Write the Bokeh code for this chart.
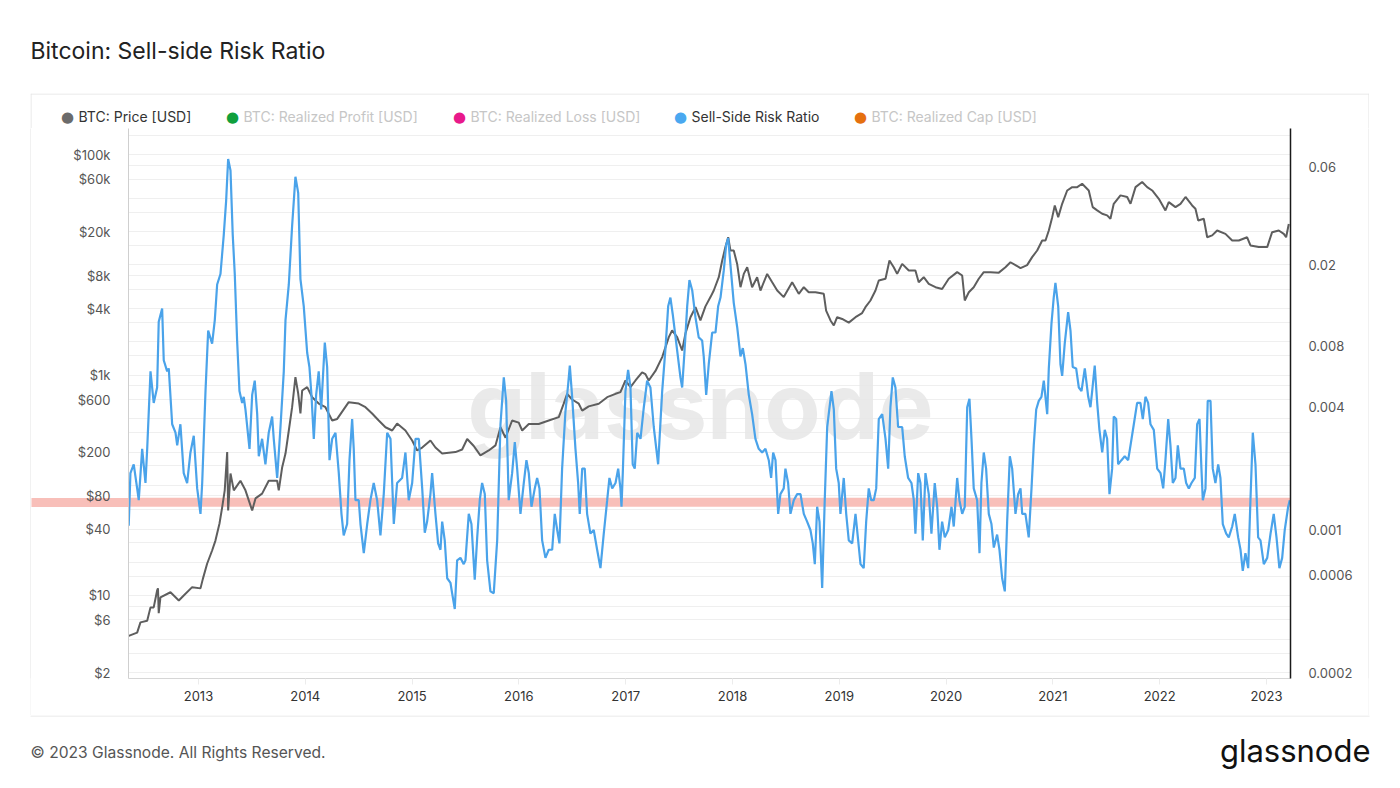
import math
from bokeh.plotting import figure
from bokeh.layouts import column, row
from bokeh.models import (Range1d, LogAxis, LinearAxis, FixedTicker, Label, Span, BoxAnnotation,
                          Grid, LogScale, ColumnDataSource, Spacer)
from bokeh.embed import file_html
from bokeh.resources import INLINE

# ---------------- data ----------------
SSR_T = [2012.347, 2012.363, 2012.394, 2012.426, 2012.441, 2012.473, 2012.504, 2012.520, 2012.551, 2012.581,
         2012.613, 2012.628, 2012.660, 2012.675, 2012.707, 2012.722, 2012.754, 2012.785, 2012.801, 2012.831,
         2012.862, 2012.894, 2012.925, 2012.956, 2012.988, 2013.019, 2013.035, 2013.066, 2013.091, 2013.128,
         2013.153, 2013.175, 2013.206, 2013.237, 2013.259, 2013.278, 2013.300, 2013.321, 2013.340, 2013.362,
         2013.384, 2013.409, 2013.424, 2013.440, 2013.478, 2013.503, 2013.527, 2013.550, 2013.565, 2013.596,
         2013.627, 2013.658, 2013.690, 2013.705, 2013.737, 2013.768, 2013.799, 2013.815, 2013.846, 2013.877,
         2013.908, 2013.934, 2013.955, 2013.986, 2014.018, 2014.039, 2014.058, 2014.080, 2014.102, 2014.126,
         2014.149, 2014.183, 2014.205, 2014.227, 2014.252, 2014.283, 2014.314, 2014.339, 2014.360, 2014.392,
         2014.414, 2014.439, 2014.454, 2014.470, 2014.501, 2014.517, 2014.548, 2014.580, 2014.610, 2014.641,
         2014.673, 2014.704, 2014.735, 2014.767, 2014.798, 2014.829, 2014.860, 2014.907, 2014.938, 2014.969,
         2015.001, 2015.032, 2015.063, 2015.095, 2015.119,
         2015.141, 2015.172, 2015.188, 2015.219, 2015.244, 2015.266, 2015.282, 2015.306, 2015.329, 2015.360,
         2015.375, 2015.400, 2015.422, 2015.453, 2015.484, 2015.500, 2015.531, 2015.556, 2015.587, 2015.610,
         2015.634, 2015.656, 2015.681, 2015.703, 2015.734, 2015.765, 2015.797, 2015.828, 2015.859, 2015.881,
         2015.905, 2015.937, 2015.962, 2015.984, 2016.015, 2016.046, 2016.071, 2016.093, 2016.118, 2016.149,
         2016.171, 2016.193, 2016.218, 2016.249, 2016.280, 2016.312, 2016.336, 2016.359, 2016.380, 2016.405,
         2016.436, 2016.462, 2016.477, 2016.499, 2016.530, 2016.555, 2016.570, 2016.593, 2016.617, 2016.639,
         2016.670, 2016.701, 2016.733, 2016.764, 2016.795, 2016.827, 2016.848, 2016.874, 2016.905, 2016.930,
         2016.951, 2016.961, 2016.973, 2016.998, 2017.023, 2017.045, 2017.066, 2017.085, 2017.108, 2017.139,
         2017.170, 2017.201, 2017.232, 2017.263, 2017.304, 2017.342, 2017.373, 2017.398, 2017.419, 2017.441,
         2017.482, 2017.513, 2017.529, 2017.553, 2017.576, 2017.597, 2017.623, 2017.654, 2017.684, 2017.716,
         2017.731, 2017.754,
         2017.778, 2017.810, 2017.841, 2017.866, 2017.888, 2017.919, 2017.941, 2017.960, 2017.981, 2018.012,
         2018.044, 2018.075, 2018.097, 2018.122, 2018.153, 2018.184, 2018.215, 2018.246, 2018.278, 2018.309,
         2018.340, 2018.362, 2018.381, 2018.403, 2018.428, 2018.449, 2018.480, 2018.496, 2018.521, 2018.543,
         2018.574, 2018.606, 2018.637, 2018.668, 2018.699, 2018.730, 2018.752, 2018.771, 2018.793, 2018.815,
         2018.840, 2018.864, 2018.887, 2018.927, 2018.949, 2018.971, 2018.995, 2019.011, 2019.042, 2019.065,
         2019.089, 2019.121, 2019.152, 2019.177, 2019.199, 2019.229, 2019.252, 2019.276, 2019.299, 2019.323,
         2019.346, 2019.370, 2019.402, 2019.433, 2019.458, 2019.479, 2019.501, 2019.526, 2019.551, 2019.589,
         2019.613, 2019.645, 2019.676, 2019.698, 2019.713, 2019.739, 2019.760, 2019.782, 2019.807, 2019.838,
         2019.863, 2019.894, 2019.917, 2019.938, 2019.963, 2019.988, 2020.020, 2020.051, 2020.072, 2020.104,
         2020.125, 2020.151, 2020.175, 2020.198, 2020.219, 2020.238, 2020.259, 2020.291, 2020.313, 2020.331,
         2020.353, 2020.375, 2020.400, 2020.425, 2020.447, 2020.478, 2020.500, 2020.525, 2020.550,
         2020.572, 2020.597, 2020.619, 2020.650, 2020.675, 2020.697, 2020.713, 2020.743, 2020.774, 2020.800,
         2020.821, 2020.844, 2020.868, 2020.893, 2020.915, 2020.947, 2020.962, 2020.987, 2021.008, 2021.024,
         2021.050, 2021.071, 2021.087, 2021.111, 2021.143, 2021.165, 2021.186, 2021.218, 2021.243, 2021.268,
         2021.299, 2021.331, 2021.352, 2021.368, 2021.392, 2021.415, 2021.436, 2021.462, 2021.486, 2021.508,
         2021.530, 2021.555, 2021.570, 2021.593, 2021.611, 2021.642, 2021.673, 2021.705, 2021.727, 2021.758,
         2021.789, 2021.820, 2021.842, 2021.867, 2021.892, 2021.914, 2021.945, 2021.977, 2022.008, 2022.033,
         2022.054, 2022.080, 2022.101, 2022.123, 2022.148, 2022.170, 2022.195, 2022.226, 2022.248, 2022.273,
         2022.298, 2022.329, 2022.351, 2022.373, 2022.391, 2022.404, 2022.429, 2022.450, 2022.476, 2022.497,
         2022.522, 2022.548, 2022.569, 2022.591, 2022.623, 2022.647, 2022.679, 2022.703, 2022.735, 2022.757,
         2022.778, 2022.803, 2022.829, 2022.850, 2022.872, 2022.897, 2022.922, 2022.944, 2022.975, 2023.007,
         2023.038, 2023.068, 2023.094, 2023.121, 2023.147, 2023.171, 2023.203, 2023.218]

SSR_V = [0.00105, 0.0019, 0.0021, 0.0016, 0.0014, 0.0025, 0.0017, 0.0025, 0.006, 0.0042,
         0.005, 0.0105, 0.0122, 0.0068, 0.006, 0.0062, 0.0033, 0.003, 0.0026, 0.0033,
         0.0019, 0.0017, 0.0024, 0.0029, 0.0016, 0.0012, 0.0017, 0.0048, 0.0095, 0.0082,
         0.0107, 0.016, 0.018, 0.028, 0.041, 0.066, 0.058, 0.028, 0.018, 0.0085,
         0.0048, 0.0042, 0.0045, 0.0039, 0.0025, 0.0046, 0.0054, 0.0037, 0.0023, 0.0028,
         0.0021, 0.003, 0.0036, 0.0028, 0.0018, 0.0032, 0.006, 0.0107, 0.016, 0.031,
         0.054, 0.045, 0.017, 0.0125, 0.0074, 0.0063, 0.0046, 0.0028, 0.0046, 0.006,
         0.0039, 0.0083, 0.0063, 0.0022, 0.0028, 0.003, 0.0019, 0.0012, 0.00094, 0.00107,
         0.0022, 0.0035, 0.0025, 0.0014, 0.0014, 0.00107, 0.00077, 0.00107, 0.0014, 0.0017,
         0.0014, 0.00094, 0.0015, 0.003, 0.0028, 0.00107, 0.0017, 0.0018, 0.0024, 0.0014,
         0.0017, 0.0028, 0.0028, 0.0016, 0.00097,
         0.0011, 0.0015, 0.0019, 0.0012, 0.00086, 0.0008, 0.0011, 0.00089, 0.00058, 0.00055,
         0.00049, 0.00041, 0.00071, 0.00073, 0.00068, 0.00071, 0.0012, 0.00107, 0.00057, 0.00092,
         0.0014, 0.0017, 0.0015, 0.00071, 0.0005, 0.00049, 0.00089, 0.0033, 0.0056, 0.0043,
         0.0014, 0.0019, 0.0027, 0.002, 0.0012, 0.0017, 0.0022, 0.0019, 0.0013, 0.0016,
         0.0018, 0.0016, 0.00089, 0.00073, 0.0008, 0.0008, 0.0012, 0.001, 0.00086, 0.002,
         0.0038, 0.0052, 0.0064, 0.0045, 0.0025, 0.0017, 0.0012, 0.002, 0.002, 0.0012,
         0.00096, 0.001, 0.0008, 0.00065, 0.00096, 0.0014, 0.0018, 0.0016, 0.0017, 0.002,
         0.0016, 0.0013, 0.0019, 0.0048, 0.0061, 0.005, 0.0021, 0.002, 0.003, 0.0028,
         0.004, 0.0054, 0.005, 0.0032, 0.0021, 0.0048, 0.0078, 0.0125, 0.0138, 0.0114,
         0.0076, 0.0056, 0.005, 0.0078, 0.0125, 0.0168, 0.015, 0.011, 0.0088, 0.0085,
         0.0071, 0.0046,
         0.0065, 0.0093, 0.0093, 0.0125, 0.0138, 0.0188, 0.025, 0.027, 0.02, 0.013,
         0.0099, 0.0071, 0.0078, 0.0065, 0.0046, 0.0037, 0.0028, 0.0025, 0.0024, 0.0025,
         0.0022, 0.0018, 0.0024, 0.0022, 0.0012, 0.0015, 0.0016, 0.002, 0.0017, 0.0012,
         0.0014, 0.0015, 0.0015, 0.0012, 0.0011, 0.001, 0.00086, 0.00068, 0.0013, 0.0011,
         0.00052, 0.0014, 0.0032, 0.0048, 0.0039, 0.002, 0.0017, 0.0012, 0.0018, 0.0012,
         0.00089, 0.00086, 0.0012, 0.00089, 0.00068, 0.00065, 0.0011, 0.0016, 0.0014, 0.0014,
         0.0016, 0.0035, 0.0037, 0.0028, 0.002, 0.004, 0.0056, 0.005, 0.0032, 0.0032,
         0.0023, 0.0018, 0.0017, 0.0014, 0.00096, 0.0019, 0.0017, 0.00089, 0.0019, 0.0015,
         0.00096, 0.0017, 0.0013, 0.0008, 0.0011, 0.00092, 0.001, 0.0013, 0.00104, 0.0018,
         0.0014, 0.0012, 0.0013, 0.004, 0.0044, 0.0028, 0.0016, 0.0014, 0.00077, 0.0017,
         0.0024, 0.002, 0.0012, 0.00107, 0.00082, 0.00095, 0.0008, 0.00058, 0.0005,
         0.0011, 0.0023, 0.002, 0.0012, 0.0015, 0.0016, 0.0012, 0.0012, 0.00092, 0.0016,
         0.0026, 0.0039, 0.0043, 0.0045, 0.0054, 0.0037, 0.0062, 0.0103, 0.0138, 0.0163,
         0.0125, 0.0065, 0.0057, 0.0082, 0.0117, 0.0095, 0.0063, 0.0062, 0.005, 0.0048,
         0.0062, 0.0045, 0.004, 0.0048, 0.0064, 0.0042, 0.0031, 0.0024, 0.0031, 0.0028,
         0.0015, 0.002, 0.0036, 0.0035, 0.0021, 0.0022, 0.0023, 0.0022, 0.0026, 0.0033,
         0.0042, 0.0042, 0.0035, 0.0045, 0.0042, 0.0033, 0.0031, 0.002, 0.0019, 0.0016,
         0.0022, 0.0035, 0.0026, 0.0017, 0.0018, 0.0026, 0.002, 0.002, 0.0017, 0.0016,
         0.0017, 0.0018, 0.0033, 0.0035, 0.002, 0.0014, 0.0016, 0.0043, 0.0043, 0.002,
         0.0017, 0.0021, 0.0018, 0.00107, 0.00096, 0.00092, 0.00104, 0.0012, 0.00092, 0.0008,
         0.00063, 0.00077, 0.00065, 0.0014, 0.003, 0.0021, 0.00092, 0.00089, 0.00068, 0.00073,
         0.00096, 0.0012, 0.00092, 0.00065, 0.00073, 0.001, 0.0013, 0.0014]

PRICE_T = [2012.347, 2012.426, 2012.457, 2012.520, 2012.551, 2012.581, 2012.613, 2012.621, 2012.628, 2012.644,
           2012.738, 2012.816, 2012.862, 2012.941, 2013.019, 2013.040, 2013.081, 2013.128, 2013.159, 2013.197,
           2013.222, 2013.246, 2013.269, 2013.278, 2013.300, 2013.331, 2013.393, 2013.440, 2013.503, 2013.534,
           2013.596, 2013.658, 2013.737, 2013.752, 2013.784, 2013.815, 2013.846, 2013.877, 2013.908, 2013.934,
           2013.955, 2013.971, 2014.018, 2014.065, 2014.126, 2014.189, 2014.252, 2014.299, 2014.407, 2014.501,
           2014.564, 2014.626, 2014.688, 2014.751, 2014.814, 2014.860, 2014.938, 2015.001, 2015.048, 2015.095,
           2015.172, 2015.219, 2015.282, 2015.406, 2015.469, 2015.516, 2015.578, 2015.640, 2015.718, 2015.781,
           2015.828, 2015.875, 2015.937, 2015.999, 2016.031, 2016.093, 2016.186, 2016.280, 2016.374, 2016.420,
           2016.452, 2016.499, 2016.561, 2016.593, 2016.654, 2016.748, 2016.827, 2016.905, 2016.951, 2016.998,
           2017.045, 2017.092, 2017.154, 2017.185, 2017.216, 2017.279, 2017.342, 2017.404, 2017.435, 2017.482,
           2017.529, 2017.560, 2017.607, 2017.654, 2017.700, 2017.747, 2017.794, 2017.825, 2017.872, 2017.904,
           2017.934, 2017.960, 2017.981, 2018.012, 2018.044, 2018.075, 2018.106, 2018.138, 2018.184, 2018.231,
           2018.262, 2018.325, 2018.372, 2018.419, 2018.480, 2018.559, 2018.621, 2018.668, 2018.714, 2018.777,
           2018.855, 2018.877, 2018.918, 2018.949, 2018.980, 2019.027, 2019.089, 2019.152, 2019.214, 2019.245,
           2019.292, 2019.339, 2019.370, 2019.433, 2019.470, 2019.510, 2019.542, 2019.589, 2019.651, 2019.713,
           2019.744, 2019.791, 2019.838, 2019.901, 2019.963, 2020.025, 2020.104, 2020.151, 2020.175, 2020.213,
           2020.259, 2020.306, 2020.353, 2020.416, 2020.494, 2020.556, 2020.603, 2020.650, 2020.697, 2020.759,
           2020.806, 2020.853, 2020.900, 2020.931, 2020.962, 2020.994, 2021.018, 2021.050, 2021.087, 2021.134,
           2021.181, 2021.228, 2021.274, 2021.336, 2021.373, 2021.415, 2021.462, 2021.508, 2021.539, 2021.570,
           2021.633, 2021.696, 2021.727, 2021.774, 2021.836, 2021.883, 2021.930, 2021.992, 2022.054, 2022.085,
           2022.148, 2022.195, 2022.242, 2022.304, 2022.335, 2022.361, 2022.413, 2022.445, 2022.492, 2022.538,
           2022.616, 2022.679, 2022.741, 2022.819, 2022.850, 2022.928, 2023.007, 2023.053, 2023.115, 2023.162,
           2023.184, 2023.209]

PRICE_V = [4.3, 4.6, 5.7, 5.9, 7.8, 7.8, 11.1, 11.6, 6.9, 9.6,
           10.7, 9.0, 10.0, 11.9, 11.6, 14, 19.4, 25.6, 31.5, 45,
           63, 90, 200, 59, 128, 90, 110, 90, 59, 76,
           84, 110, 110, 90, 146, 194, 314, 511, 957, 680,
           448, 725, 777, 630, 552, 511, 387, 400, 568, 552,
           511, 448, 387, 336, 314, 363, 314, 255, 207, 220,
           255, 220, 194, 200, 211, 263, 227, 187, 207, 230,
           336, 270, 387, 370, 314, 360, 360, 387, 415, 550,
           676, 600, 550, 476, 520, 550, 630, 676, 700, 893,
           777, 893, 1060, 1020, 893, 1090, 1455, 2210, 2540, 2210,
           1670, 2390, 3350, 4130, 3130, 4200, 5100, 5850, 7730, 10960,
           14500, 17800, 13500, 13500, 10200, 6270, 8280, 9520, 6270, 7730,
           5850, 8280, 6950, 5850, 5100, 6950, 5460, 6270, 5650, 5650,
           5460, 3850, 3130, 2820, 3350, 3230, 2990, 3350, 3650, 4130,
           4750, 5850, 7210, 7480, 10960, 9520, 8280, 10200, 8880, 8880,
           6950, 7730, 6730, 6270, 6030, 7480, 8590, 8000, 4750, 5650,
           6270, 7480, 8590, 8590, 8500, 9520, 10560, 9950, 9350, 9950,
           11760, 13500, 16630, 16630, 20500, 27100, 34600, 27100, 35800, 47300,
           50700, 50700, 54400, 47300, 33400, 31200, 29100, 28100, 26200, 35800,
           42700, 41300, 35800, 50700, 56400, 50700, 47300, 39700, 31200, 37100,
           33400, 35800, 41300, 34600, 32300, 25300, 26200, 17800, 18500, 20500,
           19100, 16630, 16630, 17800, 15000, 14500, 14500, 19800, 20500, 19100,
           17800, 23500]

PRICE_TICKS = [2, 6, 10, 40, 80, 200, 600, 1000, 4000, 8000, 20000, 60000, 100000]
PRICE_LABELS = ["$2", "$6", "$10", "$40", "$80", "$200", "$600", "$1k", "$4k", "$8k", "$20k", "$60k", "$100k"]
SSR_TICKS = [0.0002, 0.0006, 0.001, 0.004, 0.008, 0.02, 0.06]
SSR_LABELS = ["0.0002", "0.0006", "0.001", "0.004", "0.008", "0.02", "0.06"]
YEARS = [2013, 2014, 2015, 2016, 2017, 2018, 2019, 2020, 2021, 2022, 2023]
GRID_TICKS = [m * 10 ** e for e in range(0, 6) for m in (1, 1.5, 2, 3, 4, 6, 8)]
THRESHOLD = 0.00137

LEGEND_NAMES = ["BTC: Price [USD]", "BTC: Realized Profit [USD]", "BTC: Realized Loss [USD]",
                "Sell-Side Risk Ratio", "BTC: Realized Cap [USD]"]
LEGEND_DOTS = ["#6b6b6b", "#10a03c", "#e8198b", "#4aa8f0", "#e5700f"]
LEGEND_ACTIVE = [True, False, False, True, False]

FONT = "Inter"
BORDER = "#e4e4e4"
BAND = "#f6a9a2"

X_RANGE = (2012.345, 2023.225)
PRICE_RANGE = (1.765, 172700)
SSR_RANGE = (0.000187, 0.0931)


def blank(w, h, x0, x1, y0, y1, bg="white"):
    f = figure(width=w, height=h, output_backend="svg", toolbar_location=None,
               x_range=Range1d(x0, x1), y_range=Range1d(y0, y1),
               x_axis_location=None, y_axis_location=None, min_border=0)
    f.xgrid.visible = False
    f.ygrid.visible = False
    f.outline_line_color = None
    f.background_fill_color = bg
    f.border_fill_color = bg
    return f


def rule(f, l, r, t, b):
    f.add_layout(BoxAnnotation(left=l, right=r, top=t, bottom=b, fill_color=BORDER,
                               fill_alpha=1, line_color=None))


# ---------------- header (title) ----------------
header = blank(1400, 93, 0, 1400, 93, 0)
header.add_layout(Label(x=30, y=50, text="Bitcoin: Sell-side Risk Ratio", text_baseline="middle",
                        text_font=FONT, text_font_size="23px", text_color="#222222"))

# ---------------- top of panel: border + legend ----------------
top_fig = blank(1339, 35, 30, 1369, 128, 93)
rule(top_fig, 30, 1369, 93, 94)
rule(top_fig, 30, 31, 93, 128)
rule(top_fig, 1368, 1369, 93, 128)
leg_x = [67, 232, 459, 680, 860]
for xd, name, col, act in zip(leg_x, LEGEND_NAMES, LEGEND_DOTS, LEGEND_ACTIVE):
    top_fig.add_layout(Label(x=xd, y=116, text="\u25cf", text_align="center", text_baseline="middle",
                             text_font="DejaVu Sans", text_font_size="15px", text_color=col))
    top_fig.add_layout(Label(x=xd + 11, y=116, text=name, text_baseline="middle",
                             text_font=FONT, text_font_size="14px",
                             text_color="#333333" if act else "#c6c6c6"))

# ---------------- main chart ----------------
MW, MH = 1337, 587
FL, FR, FB = 97, 78, 37
p = figure(width=MW, height=MH, output_backend="svg", toolbar_location=None,
           x_range=Range1d(*X_RANGE), y_range=Range1d(*PRICE_RANGE),
           x_axis_location=None, y_axis_location=None,
           min_border_left=FL, min_border_right=FR, min_border_top=0, min_border_bottom=FB)
p.y_scale = LogScale()
p.extra_y_ranges = {"ssr": Range1d(*SSR_RANGE)}
p.extra_y_scales = {"ssr": LogScale()}
p.outline_line_color = None
p.background_fill_color = "white"
p.border_fill_color = "white"
p.xgrid.visible = False
p.ygrid.visible = False

p.add_layout(Grid(dimension=1, ticker=FixedTicker(ticks=GRID_TICKS),
                  grid_line_color="#efefef", grid_line_width=1))

# the threshold expressed on the price axis (same height) so the band also runs under the labels
lp0, lp1 = (math.log10(v) for v in PRICE_RANGE)
ls0, ls1 = (math.log10(v) for v in SSR_RANGE)
thr_price = 10 ** (lp0 + (math.log10(THRESHOLD) - ls0) / (ls1 - ls0) * (lp1 - lp0))

left = LogAxis(ticker=FixedTicker(ticks=PRICE_TICKS, minor_ticks=[thr_price]),
               major_label_overrides=dict(zip(PRICE_TICKS, PRICE_LABELS)),
               axis_line_color="#cfcfcf", axis_line_width=1,
               major_tick_line_color=None, major_tick_in=0, major_tick_out=0,
               minor_tick_line_color=BAND, minor_tick_line_alpha=0.75, minor_tick_line_width=9,
               minor_tick_in=0, minor_tick_out=FL,
               major_label_standoff=18 - FL,
               major_label_text_font=FONT, major_label_text_font_size="13px",
               major_label_text_color="#555555")
p.add_layout(left, "left")

right = LogAxis(y_range_name="ssr", ticker=FixedTicker(ticks=SSR_TICKS),
                major_label_overrides=dict(zip(SSR_TICKS, SSR_LABELS)),
                axis_line_color="#1a1a1a", axis_line_width=1.5,
                major_tick_line_color=None, minor_tick_line_color=None,
                major_tick_in=0, major_tick_out=0, major_label_standoff=18,
                major_label_text_font=FONT, major_label_text_font_size="13px",
                major_label_text_color="#555555")
p.add_layout(right, "right")

bottom = LinearAxis(ticker=FixedTicker(ticks=YEARS),
                    axis_line_color="#d6d6d6", axis_line_width=1,
                    major_tick_line_color="#ececec", minor_tick_line_color=None,
                    major_tick_in=0, major_tick_out=6, major_label_standoff=6,
                    major_label_text_font=FONT, major_label_text_font_size="13px",
                    major_label_text_color="#333333")
p.add_layout(bottom, "below")

# watermark
p.add_layout(Label(x=572, y=273, x_units="screen", y_units="screen",
                   text="glassnode", text_align="center", text_baseline="middle",
                   text_font=FONT, text_font_size="92px", text_font_style="bold",
                   text_color="#e6e6e6", text_alpha=0.85, level="underlay"))

# threshold band
p.add_layout(Span(location=THRESHOLD, dimension="width", y_range_name="ssr",
                  line_color=BAND, line_alpha=0.75, line_width=9, level="underlay"))

src_price = ColumnDataSource(dict(t=PRICE_T, v=PRICE_V))
src_ssr = ColumnDataSource(dict(t=SSR_T, v=SSR_V))
p.line("t", "v", source=src_price, line_color="#5e5e5e", line_width=2)
p.line("t", "v", source=src_ssr, line_color="#4aa3ea", line_width=2.2, y_range_name="ssr")

left_line = blank(1, MH, 0, 1, 0, 1, bg=BORDER)
right_line = blank(1, MH, 0, 1, 0, 1, bg=BORDER)

# ---------------- footer (with bottom border of the panel) ----------------
footer = blank(1400, 73, 0, 1400, 788, 715)
rule(footer, 30, 1369, 715, 716)
footer.add_layout(Label(x=30, y=752, text="\u00a9 2023 Glassnode. All Rights Reserved.",
                        text_baseline="middle", text_font=FONT, text_font_size="15.6px",
                        text_color="#555555"))
footer.add_layout(Label(x=1370, y=750, text="glassnode", text_align="right", text_baseline="middle",
                        text_font=FONT, text_font_size="31px", text_color="#111111"))

top_row = row(Spacer(width=30, height=35), top_fig, Spacer(width=31, height=35), spacing=0)
mid_row = row(Spacer(width=30, height=MH), left_line, p, right_line, Spacer(width=31, height=MH),
              spacing=0)
page = column(header, top_row, mid_row, footer, spacing=0)

open("out.html", "w").write(file_html(page, INLINE))
